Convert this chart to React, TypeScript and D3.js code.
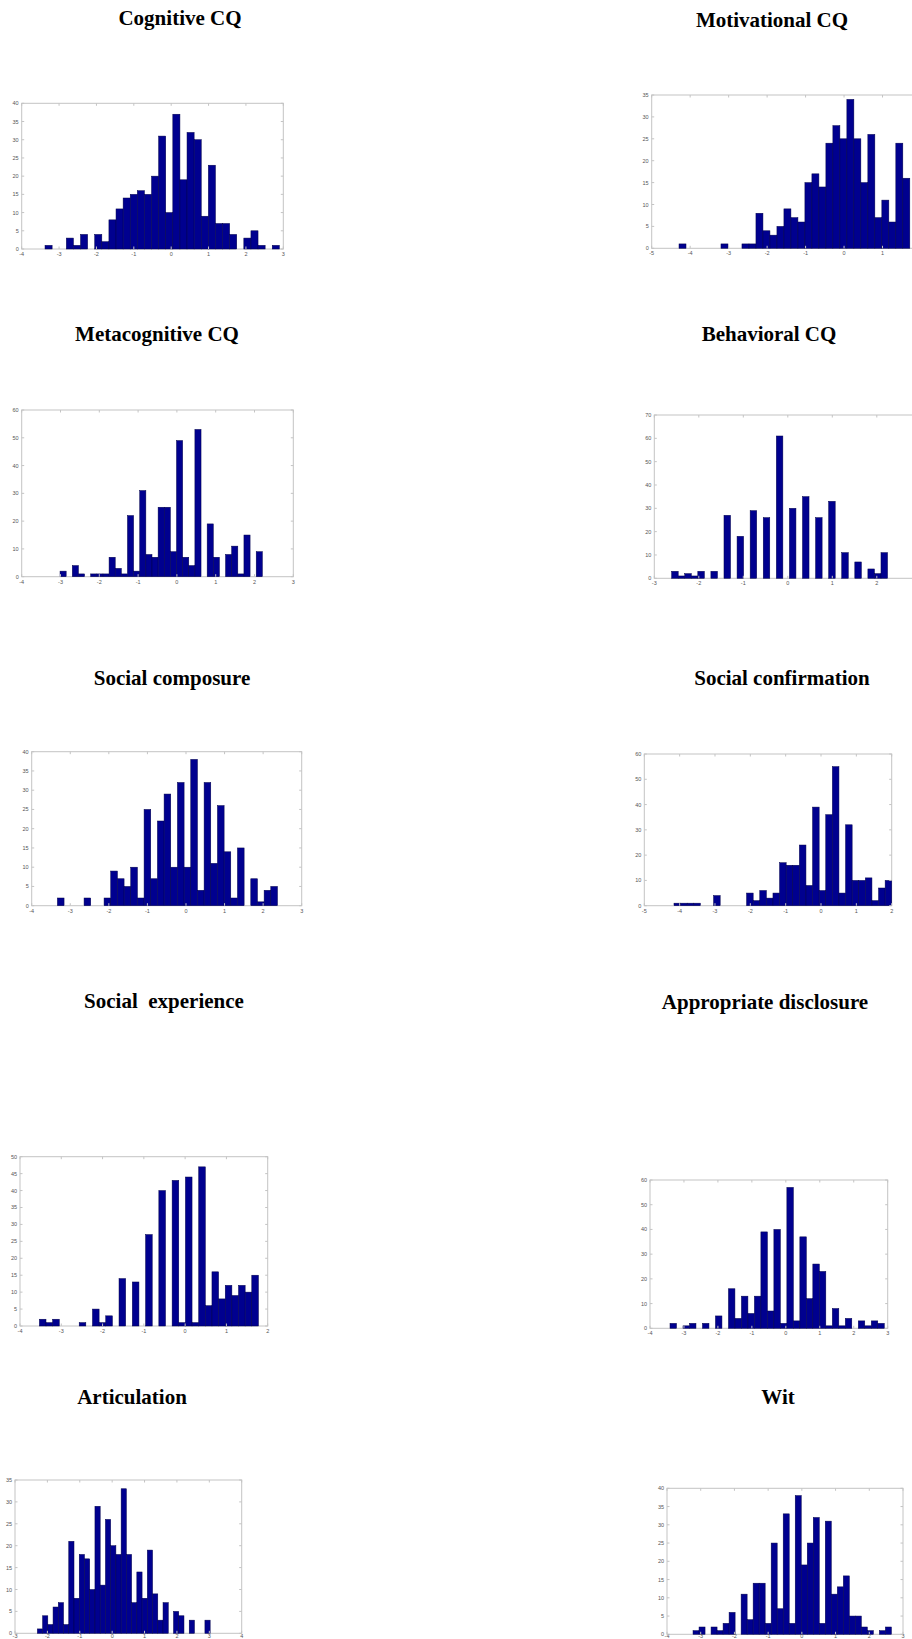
import React from 'react';
import * as d3 from 'd3';

// panel titles, left column then right column, row by row
const titles = [
  'Cognitive CQ', 'Motivational CQ',
  'Metacognitive CQ', 'Behavioral CQ',
  'Social composure', 'Social confirmation',
  'Social  experience', 'Appropriate disclosure',
  'Articulation', 'Wit',
];

// histogram counts (33 bins each)
const cognitiveCounts = [1, 0, 0, 3, 1, 4, 0, 4, 2, 8, 11, 14, 15, 16, 15, 20, 31, 10, 37, 19, 32, 30, 9, 23, 7, 7, 4, 0, 3, 5, 1, 0, 1];
const motivationalCounts = [1, 0, 0, 0, 0, 0, 1, 0, 0, 1, 1, 8, 4, 3, 5, 9, 7, 6, 15, 17, 14, 24, 28, 25, 34, 25, 15, 26, 7, 11, 6, 24, 16];
const metacognitiveCounts = [2, 0, 4, 1, 0, 1, 1, 1, 7, 3, 1, 22, 2, 31, 8, 7, 25, 25, 9, 49, 7, 4, 53, 0, 19, 7, 0, 8, 11, 1, 15, 0, 9];
const behavioralCounts = [3, 1, 2, 1, 3, 0, 3, 0, 27, 0, 18, 0, 29, 0, 26, 0, 61, 0, 30, 0, 35, 0, 26, 0, 33, 0, 11, 0, 7, 0, 4, 2, 11];
const composureCounts = [2, 0, 0, 0, 2, 0, 0, 2, 9, 7, 5, 10, 2, 25, 7, 22, 29, 10, 32, 10, 38, 4, 32, 11, 26, 14, 2, 15, 0, 7, 1, 4, 5];
const confirmationCounts = [1, 1, 1, 1, 0, 0, 4, 0, 0, 0, 0, 5, 2, 6, 3, 5, 17, 16, 16, 24, 8, 39, 6, 36, 55, 5, 32, 10, 10, 11, 2, 7, 10];
const experienceCounts = [2, 1, 2, 0, 0, 0, 1, 0, 5, 1, 3, 0, 14, 0, 13, 0, 27, 0, 40, 0, 43, 1, 44, 1, 47, 6, 16, 8, 12, 9, 12, 10, 15];
const disclosureCounts = [2, 0, 1, 2, 0, 2, 0, 5, 0, 16, 4, 13, 6, 13, 39, 7, 40, 2, 57, 3, 37, 12, 26, 23, 1, 8, 1, 4, 0, 3, 1, 3, 2];
const articulationCounts = [1, 4, 2, 6, 7, 2, 21, 8, 18, 17, 10, 29, 11, 26, 20, 18, 33, 18, 7, 14, 8, 19, 9, 3, 7, 0, 5, 4, 0, 3, 0, 0, 3];
const witCounts = [1, 2, 0, 2, 1, 3, 6, 0, 11, 4, 14, 14, 3, 25, 7, 33, 3, 38, 19, 25, 32, 3, 31, 11, 13, 16, 5, 5, 2, 1, 0, 1, 2];

const counts = [
  cognitiveCounts, motivationalCounts, metacognitiveCounts, behavioralCounts,
  composureCounts, confirmationCounts, experienceCounts, disclosureCounts,
  articulationCounts, witCounts,
];

// left edge of the first bin and bin width (z-score units)
const binStarts = [-3.376, -4.29, -3.012, -2.61, -3.334, -4.16, -3.531, -3.411, -2.31, -3.228];
const binWidths = [0.19, 0.1818, 0.158, 0.147, 0.1729, 0.1867, 0.1608, 0.1912, 0.1617, 0.1783];

// axis ranges and y tick steps
const xDomains = [[-4, 3], [-5, 2], [-4, 3], [-3, 3], [-4, 3], [-5, 2], [-4, 2], [-4, 3], [-3, 4], [-4, 3]];
const yMaxes = [40, 35, 60, 70, 40, 60, 50, 60, 35, 40];
const ySteps = [5, 5, 10, 10, 5, 10, 5, 10, 5, 5];

// where each panel sits on the page (layout only)
const frames = [
  { left: 21.7, right: 283.3, top: 103.3, bottom: 249, tx: 180, ty: 25 },
  { left: 651.7, right: 921, top: 95, bottom: 248.3, tx: 772, ty: 27 },
  { left: 21.7, right: 293.3, top: 410, bottom: 576.7, tx: 157, ty: 341 },
  { left: 654.3, right: 921.3, top: 415, bottom: 578.3, tx: 769, ty: 341 },
  { left: 31.7, right: 301.7, top: 751.7, bottom: 905.7, tx: 172, ty: 685 },
  { left: 644.3, right: 891.7, top: 754, bottom: 905.7, tx: 782, ty: 685 },
  { left: 20, right: 267.7, top: 1156.7, bottom: 1326, tx: 164, ty: 1008 },
  { left: 650, right: 887.7, top: 1180, bottom: 1328.3, tx: 765, ty: 1009 },
  { left: 15, right: 241.7, top: 1480, bottom: 1633.3, tx: 132, ty: 1404 },
  { left: 667, right: 903, top: 1488.3, bottom: 1634.3, tx: 778, ty: 1404 },
];

const W = 912;
const H = 1639;
const BAR = '#00008f';
const FRAME = '#c4c4c4';
const TICK_FONT = 'Liberation Sans, Arial, sans-serif';

function Panel({ i }: { i: number }) {
  const f = frames[i];
  const x = d3.scaleLinear().domain(xDomains[i]).range([f.left, f.right]);
  const y = d3.scaleLinear().domain([0, yMaxes[i]]).range([f.bottom, f.top]);
  const xt = d3.range(xDomains[i][0], xDomains[i][1] + 1, 1);
  const yt = d3.range(0, yMaxes[i] + 0.001, ySteps[i]);
  const bins = counts[i].map((c, k) => ({ x0: binStarts[i] + k * binWidths[i], c }));
  // x labels sit just under the frame, but never past the page bottom
  const labelY = Math.min(f.bottom + 7, H - 1.5);
  return (
    <g>
      <text x={f.tx} y={f.ty} textAnchor="middle"
        style={{ fontFamily: '"Liberation Serif", "Times New Roman", serif', fontWeight: 'bold', fontSize: 21, whiteSpace: 'pre' }}>
        {titles[i]}
      </text>
      <rect x={f.left} y={f.top} width={f.right - f.left} height={f.bottom - f.top} fill="#fff" stroke={FRAME} strokeWidth={1} />
      {bins.map((b, k) => (
        <rect key={k} x={x(b.x0)} y={y(b.c)} width={x(b.x0 + binWidths[i]) - x(b.x0)} height={y(0) - y(b.c)}
          fill={BAR} stroke="#00004a" strokeWidth={0.5} />
      ))}
      {xt.map((t) => (
        <g key={'x' + t}>
          <line x1={x(t)} x2={x(t)} y1={f.bottom} y2={f.bottom - 2.5} stroke={FRAME} />
          <line x1={x(t)} x2={x(t)} y1={f.top} y2={f.top + 2.5} stroke={FRAME} />
          {x(t) < W - 3 && (
            <text x={x(t)} y={labelY} textAnchor="middle" fontSize={5.5} fill="#555" fontFamily={TICK_FONT}>{t}</text>
          )}
        </g>
      ))}
      {yt.map((t) => (
        <g key={'y' + t}>
          <line x1={f.left} x2={f.left + 2.5} y1={y(t)} y2={y(t)} stroke={FRAME} />
          <line x1={f.right} x2={f.right - 2.5} y1={y(t)} y2={y(t)} stroke={FRAME} />
          <text x={f.left - 3} y={y(t) + 2} textAnchor="end" fontSize={5.5} fill="#555" fontFamily={TICK_FONT}>{t}</text>
        </g>
      ))}
    </g>
  );
}

export default function App() {
  return (
    <svg width={W} height={H} style={{ position: 'absolute', left: 0, top: 0, background: '#fff' }}>
      {titles.map((_, i) => <Panel key={i} i={i} />)}
    </svg>
  );
}
